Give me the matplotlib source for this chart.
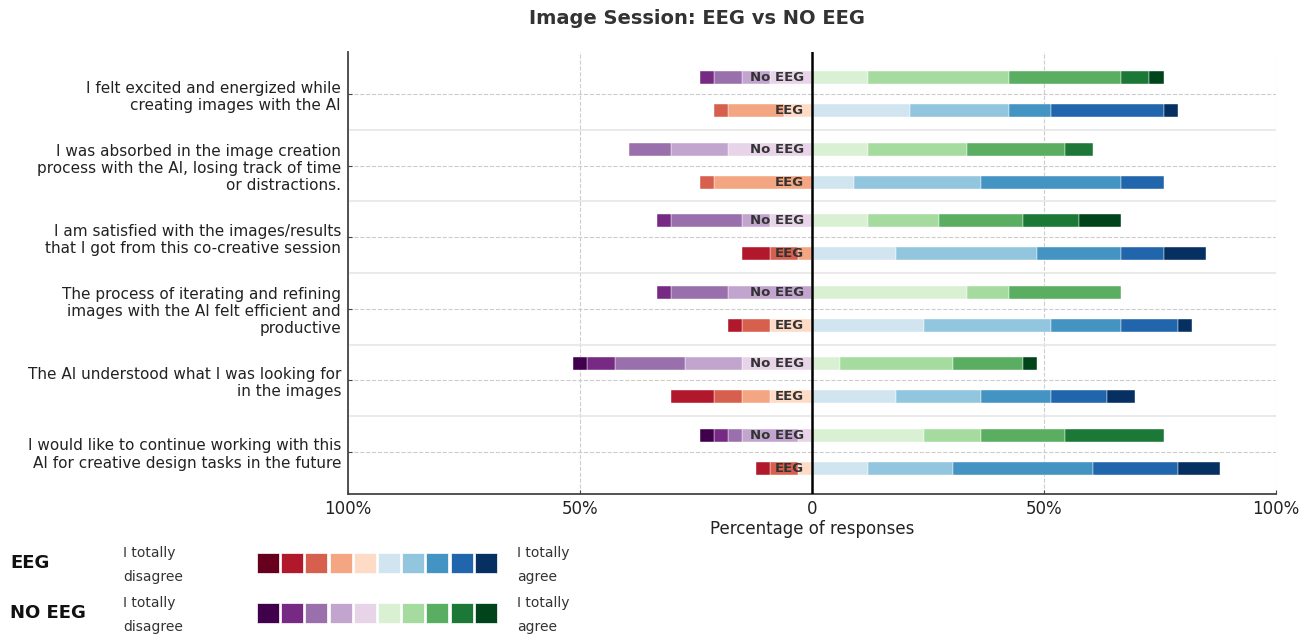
import numpy as np
import matplotlib.pyplot as plt
from matplotlib.patches import Rectangle

# Questions (top to bottom)
questions = [
    "I felt excited and energized while\ncreating images with the AI",
    "I was absorbed in the image creation\nprocess with the AI, losing track of time\nor distractions.",
    "I am satisfied with the images/results\nthat I got from this co-creative session",
    "The process of iterating and refining\nimages with the AI felt efficient and\nproductive",
    "The AI understood what I was looking for\nin the images",
    "I would like to continue working with this\nAI for creative design tasks in the future",
]

# response counts on a 10-point scale (1 = totally disagree ... 10 = totally agree)
no_eeg_counts = [
    [0, 1, 2, 2, 3, 4, 10, 8, 2, 1],
    [0, 0, 3, 4, 6, 4, 7, 7, 2, 0],
    [0, 1, 5, 2, 3, 4, 5, 6, 4, 3],
    [0, 1, 4, 6, 0, 11, 3, 8, 0, 0],
    [1, 2, 5, 4, 5, 2, 8, 5, 0, 1],
    [1, 1, 1, 4, 1, 8, 4, 6, 7, 0],
]
eeg_counts = [
    [0, 0, 1, 4, 2, 7, 7, 3, 8, 1],
    [0, 0, 1, 7, 0, 3, 9, 10, 3, 0],
    [0, 2, 2, 1, 0, 6, 10, 6, 3, 3],
    [0, 1, 2, 0, 3, 8, 9, 5, 4, 1],
    [0, 3, 2, 2, 3, 6, 6, 5, 4, 2],
    [0, 1, 2, 0, 1, 4, 6, 10, 6, 3],
]

eeg_colors = ["#67001f", "#b2182b", "#d6604d", "#f4a582", "#fddbc7",
              "#d1e5f0", "#92c5de", "#4393c3", "#2166ac", "#053061"]
no_eeg_colors = ["#40004b", "#762a83", "#9970ab", "#c2a5cf", "#e7d4e8",
                 "#d9f0d3", "#a6dba0", "#5aae61", "#1b7837", "#00441b"]

xticks = [-100, -50, 0, 50, 100]
xtick_labels = ["100%", "50%", "0", "50%", "100%"]

fig = plt.figure(figsize=(13.12, 6.39), dpi=100)
ax = fig.add_axes([348 / 1312, 1 - 494 / 639, 928 / 1312, 442 / 639])

bar_h = 0.18
offset = 0.23


def draw_row(counts, colors, y, label):
    counts = np.array(counts, dtype=float)
    pct = counts / counts.sum() * 100
    # disagree side, from center outward
    left = 0.0
    for k in range(4, -1, -1):
        if pct[k] > 0:
            ax.barh(y, -pct[k], left=left, height=bar_h, color=colors[k],
                    edgecolor="white", linewidth=0.3, zorder=3)
            left -= pct[k]
    right = 0.0
    for k in range(5, 10):
        if pct[k] > 0:
            ax.barh(y, pct[k], left=right, height=bar_h, color=colors[k],
                    edgecolor="white", linewidth=0.3, zorder=3)
            right += pct[k]
    ax.text(-1.8, y, label, ha="right", va="center", fontsize=9.5,
            fontweight="bold", color="#333333", zorder=5)


for i in range(len(questions)):
    draw_row(no_eeg_counts[i], no_eeg_colors, i - offset, "No EEG")
    draw_row(eeg_counts[i], eeg_colors, i + offset, "EEG")

ax.set_xlim(-100, 100)
ax.set_ylim(len(questions) - 0.41, -0.59)
ax.set_yticks(range(len(questions)))
ax.set_yticklabels(questions, fontsize=11, color="#222222", ha="right",
                   multialignment="right")
ax.set_xticks(xticks)
ax.set_xticklabels(xtick_labels, fontsize=12, color="#222222")
ax.tick_params(axis="both", direction="in", length=3, color="#444444")
ax.tick_params(axis="y", pad=5)
ax.tick_params(axis="x", pad=4)
ax.set_xlabel("Percentage of responses", fontsize=12, color="#222222", labelpad=2)

for s in ["top", "right"]:
    ax.spines[s].set_visible(False)
for s in ["left", "bottom"]:
    ax.spines[s].set_color("#444444")
    ax.spines[s].set_linewidth(1.3)

ax.grid(True, axis="both", linestyle="--", color="#cccccc", linewidth=0.8, zorder=0)
ax.set_axisbelow(True)
for j in range(len(questions) - 1):
    ax.axhline(j + 0.5, color="#e6e6e6", linewidth=1.2, zorder=1)
ax.axvline(0, color="black", linewidth=1.8, zorder=4)

fig.text(697 / 1312, 1 - 18 / 639, "Image Session: EEG vs NO EEG", ha="center",
         va="center", fontsize=14, fontweight="bold", color="#333333")

# legend at bottom
def legend_row(y_px, name, colors):
    fig.text(10 / 1312, 1 - y_px / 639, name, ha="left", va="center",
             fontsize=13, fontweight="bold", color="#111111")
    fig.text(123 / 1312, 1 - (y_px - 10) / 639, "I totally", ha="left",
             va="center", fontsize=10, color="#333333")
    fig.text(123 / 1312, 1 - (y_px + 14) / 639, "disagree", ha="left",
             va="center", fontsize=10, color="#333333")
    fig.text(517 / 1312, 1 - (y_px - 10) / 639, "I totally", ha="left",
             va="center", fontsize=10, color="#333333")
    fig.text(517 / 1312, 1 - (y_px + 14) / 639, "agree", ha="left",
             va="center", fontsize=10, color="#333333")
    for k, c in enumerate(colors):
        x0 = 257 + k * 24.2
        fig.patches.append(Rectangle((x0 / 1312, 1 - (y_px + 10) / 639),
                                     22 / 1312, 20 / 639, transform=fig.transFigure,
                                     facecolor=c, edgecolor="white", linewidth=0.5))


legend_row(563, "EEG", eeg_colors)
legend_row(613, "NO EEG", no_eeg_colors)

fig.savefig("out.png", dpi=100)
